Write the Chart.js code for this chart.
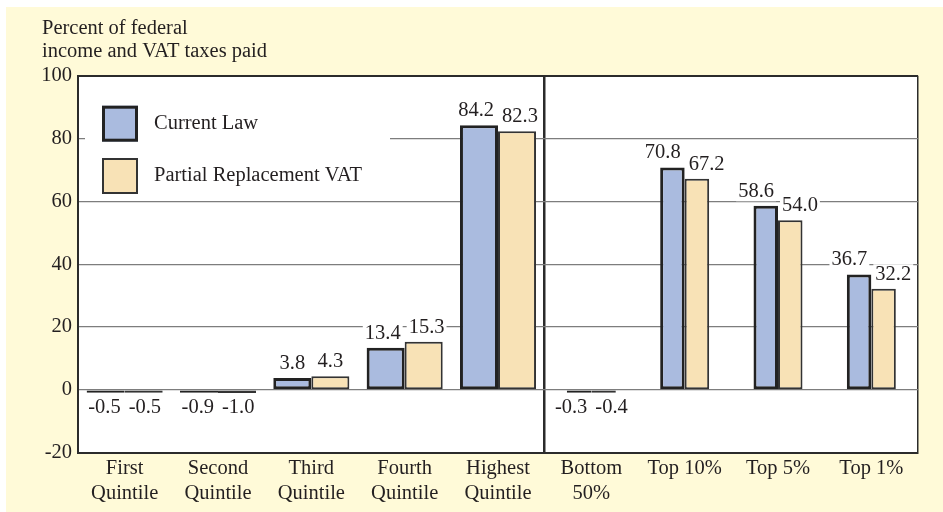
<!DOCTYPE html>
<html>
<head>
<meta charset="utf-8">
<script src="https://cdn.jsdelivr.net/npm/chart.js@4.4.1/dist/chart.umd.min.js"></script>
<style>
  body { margin: 0; background: #fff; }
  #wrap { position: absolute; left: 6px; top: 7px; width: 937px; height: 505px; background: #fffad8; }
</style>
</head>
<body>
<div id="wrap"><canvas id="taxChart"></canvas></div>
<script>
const categories = [["First", "Quintile"], ["Second", "Quintile"], ["Third", "Quintile"], ["Fourth", "Quintile"], ["Highest", "Quintile"], ["Bottom", "50%"], "Top 10%", "Top 5%", "Top 1%"];
const currentLaw = [-0.5, -0.9, 3.8, 13.4, 84.2, -0.3, 70.8, 58.6, 36.7];
const partialVat = [-0.5, -1.0, 4.3, 15.3, 82.3, -0.4, 67.2, 54.0, 32.2];
const seriesNames = ["Current Law", "Partial Replacement VAT"];
const yTicks = [-20, 0, 20, 40, 60, 80, 100];
const quintileCount = 5;

const ink = "#231f20";
const dark = "#2b2b2b";
const blue = "#aabbdf";
const sand = "#f8e2b6";
const fontFamily = "'Liberation Serif', 'Times New Roman', serif";
const fontSize = 20.5;

Chart.defaults.font.family = fontFamily;
Chart.defaults.font.size = fontSize;
Chart.defaults.color = ink;

// quintiles get wide bars, the top groups narrow ones, so each half is its own pair of datasets
const split = (values, left) => values.map((v, i) => ((i < quintileCount) === left ? v : null));

function barSet(label, values, left, fill, border, width) {
  return {
    label: label,
    data: split(values, left),
    backgroundColor: fill,
    borderColor: border,
    borderWidth: width,
    borderSkipped: false,
    skipNull: true,
    minBarLength: 3,
    categoryPercentage: left ? 0.815 : 0.525,
    barPercentage: 1
  };
}

const plotBackground = {
  id: "plotBackground",
  beforeDraw(chart) {
    const {ctx, chartArea: a} = chart;
    ctx.save();
    ctx.fillStyle = "#fff";
    ctx.fillRect(a.left, a.top, a.right - a.left, a.bottom - a.top);
    ctx.restore();
  }
};

const valueLabels = {
  id: "valueLabels",
  afterDatasetsDraw(chart) {
    const ctx = chart.ctx;
    ctx.save();
    ctx.font = fontSize + "px " + fontFamily;
    ctx.textAlign = "center";
    ctx.textBaseline = "middle";
    chart.data.datasets.forEach((ds, di) => {
      const meta = chart.getDatasetMeta(di);
      meta.data.forEach((bar, i) => {
        const v = ds.data[i];
        if (v === null) return;
        const text = v.toFixed(1);
        const w = ctx.measureText(text).width;
        const dir = ds.label === seriesNames[0] ? -1 : 1;
        const x = bar.x + dir * Math.max(0, (w + 8) / 2 - bar.width / 2);
        const y = v >= 0 ? bar.y - 14.5 : bar.base + 17;
        ctx.fillStyle = "#fff";
        ctx.fillRect(x - w / 2 - 2, y - 10, w + 4, 20);
        ctx.fillStyle = ink;
        ctx.fillText(text, x, y);
      });
    });
    ctx.restore();
  }
};

const insideLegend = {
  id: "insideLegend",
  afterDatasetsDraw(chart) {
    const {ctx, chartArea: a} = chart;
    ctx.save();
    ctx.fillStyle = "#fff";
    ctx.fillRect(a.left + 7, a.top + 4, 305, 116);
    ctx.font = fontSize + "px " + fontFamily;
    ctx.textAlign = "left";
    ctx.textBaseline = "middle";
    chart.data.datasets.slice(0, 2).forEach((ds, i) => {
      const size = 36;
      const x = a.left + 24;
      const y = a.top + 30 + i * 52.3;
      const bw = ds.borderWidth;
      ctx.fillStyle = ds.backgroundColor;
      ctx.fillRect(x, y, size, size);
      ctx.lineWidth = bw;
      ctx.strokeStyle = ds.borderColor;
      ctx.strokeRect(x + bw / 2, y + bw / 2, size - bw, size - bw);
      ctx.fillStyle = ink;
      ctx.fillText(ds.label, a.left + 76, y + size / 2);
    });
    ctx.restore();
  }
};

const ctx = document.getElementById("taxChart").getContext("2d");
const chart = new Chart(ctx, {
  type: "bar",
  data: {
    labels: categories,
    datasets: [
      barSet(seriesNames[0], currentLaw, true, blue, "#222", 3),
      barSet(seriesNames[1], partialVat, true, sand, "#333", 2),
      barSet(seriesNames[0], currentLaw, false, blue, "#222", 3),
      barSet(seriesNames[1], partialVat, false, sand, "#333", 2)
    ]
  },
  options: {
    responsive: true,
    maintainAspectRatio: false,
    animation: false,
    layout: {
      padding: {left: 36, right: 25, top: 0, bottom: 0}
    },
    scales: {
      x: {
        afterFit: (s) => { s.height = 59.3; },
        border: {color: dark, width: 2},
        grid: {
          drawTicks: false,
          color: (c) => (c.index === quintileCount || c.type === "scale" ? dark : "transparent"),
          lineWidth: (c) => (c.index === quintileCount ? 2.5 : 1.5)
        },
        ticks: {padding: 4, color: ink, maxRotation: 0, autoSkip: false}
      },
      y: {
        min: yTicks[0],
        max: yTicks[yTicks.length - 1],
        afterBuildTicks: (s) => { s.ticks = yTicks.map((value) => ({value: value})); },
        afterFit: (s) => { s.width = 36; },
        border: {color: dark, width: 2},
        grid: {
          drawTicks: false,
          color: (c) => {
            if (!c.tick) return "transparent";
            if (c.tick.value === yTicks[yTicks.length - 1]) return dark;
            if (c.tick.value === yTicks[0]) return "transparent";
            return "#7d7d7d";
          },
          lineWidth: (c) => (c.tick && c.tick.value === yTicks[yTicks.length - 1] ? 2 : 1.3)
        },
        ticks: {padding: 6, color: ink}
      }
    },
    plugins: {
      legend: {display: false},
      tooltip: {enabled: false},
      title: {
        display: true,
        text: ["Percent of federal", "income and VAT taxes paid"],
        align: "start",
        color: ink,
        font: {size: fontSize, weight: "normal", lineHeight: 23 / fontSize},
        padding: {top: 10, bottom: 12.7}
      }
    }
  },
  plugins: [plotBackground, valueLabels, insideLegend]
});
</script>
</body>
</html>
